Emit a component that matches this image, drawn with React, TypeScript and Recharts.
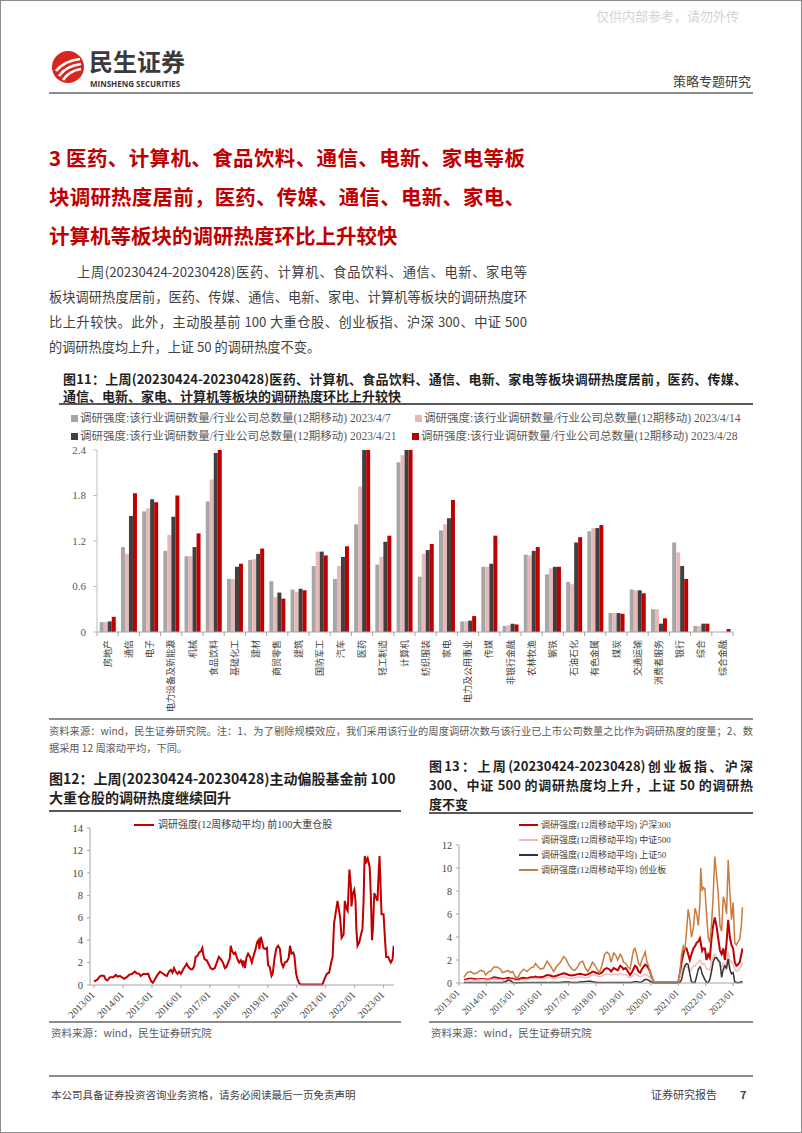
import React from 'react';
import { BarChart, Bar, XAxis, YAxis, LineChart, Line } from 'recharts';

const SERIF = "'Times New Roman', 'Liberation Serif', 'Noto Sans CJK SC', serif";
const SANS = "'Noto Sans CJK SC', 'Microsoft YaHei', sans-serif";

// ---------- Figure 11 data ----------
const industries = ['房地产', '通信', '电子', '电力设备及新能源', '机械', '食品饮料', '基础化工', '建材', '商贸零售', '建筑',
  '国防军工', '汽车', '医药', '轻工制造', '计算机', '纺织服装', '家电', '电力及公用事业', '传媒', '非银行金融',
  '农林牧渔', '钢铁', '石油石化', '有色金属', '煤炭', '交通运输', '消费者服务', '银行', '综合', '综合金融'];
const week0407 = [0.13, 1.12, 1.59, 1.07, 1.00, 1.72, 0.70, 0.95, 0.67, 0.56, 0.87, 0.70, 1.42, 0.89, 2.24, 0.73, 1.34, 0.14, 0.86, 0.08, 1.02, 0.76, 0.66, 1.33, 0.25, 0.56, 0.30, 1.18, 0.08, 0];
const week0414 = [0.13, 1.03, 1.63, 1.28, 1.00, 2.01, 0.70, 0.96, 0.46, 0.53, 1.06, 0.87, 1.92, 0.99, 2.33, 1.03, 1.42, 0.14, 0.86, 0.09, 1.01, 0.84, 0.63, 1.37, 0.25, 0.55, 0.30, 1.05, 0.08, 0];
const week0421 = [0.14, 1.53, 1.75, 1.52, 1.12, 2.36, 0.86, 1.03, 0.52, 0.57, 1.06, 0.99, 2.40, 1.19, 2.40, 1.08, 1.50, 0.15, 0.90, 0.11, 1.07, 0.86, 1.18, 1.37, 0.25, 0.55, 0.11, 0.87, 0.11, 0];
const week0428 = [0.20, 1.83, 1.71, 1.80, 1.30, 2.40, 0.90, 1.10, 0.44, 0.55, 1.01, 1.13, 2.40, 1.27, 2.40, 1.16, 1.74, 0.21, 1.27, 0.10, 1.12, 0.86, 1.25, 1.41, 0.24, 0.51, 0.18, 0.70, 0.11, 0.04];
const barTicks = [0, 0.6, 1.2, 1.8, 2.4];
const weekLabels = ['2023/4/7', '2023/4/14', '2023/4/21', '2023/4/28'];
const barColors = ['#a6a6a6', '#e6b9b8', '#404040', '#c00000'];
const barLegendPrefix = '调研强度:该行业调研数量/行业公司总数量(12期移动) ';

// ---------- Figure 12 data ----------
const fig12Time = [
  2013.00, 2013.12, 2013.21, 2013.29, 2013.35, 2013.40, 2013.46, 2013.55, 2013.67, 2013.75,
  2013.81, 2013.90, 2013.98, 2014.04, 2014.13, 2014.21, 2014.32, 2014.41, 2014.47, 2014.56,
  2014.61, 2014.71, 2014.79, 2014.87, 2014.91, 2014.98, 2015.03, 2015.10, 2015.19, 2015.28,
  2015.36, 2015.44, 2015.51, 2015.59, 2015.65, 2015.71, 2015.76, 2015.82, 2015.88, 2015.94,
  2016.00, 2016.08, 2016.13, 2016.20, 2016.26, 2016.34, 2016.40, 2016.46, 2016.51, 2016.57,
  2016.63, 2016.69, 2016.74, 2016.78, 2016.82, 2016.89, 2016.97, 2017.03, 2017.10, 2017.17,
  2017.24, 2017.31, 2017.38, 2017.45, 2017.52, 2017.57, 2017.63, 2017.69, 2017.72, 2017.77,
  2017.82, 2017.88, 2017.95, 2018.01, 2018.07, 2018.13, 2018.16, 2018.21, 2018.27, 2018.32,
  2018.39, 2018.45, 2018.51, 2018.58, 2018.63, 2018.68, 2018.71, 2018.76, 2018.81, 2018.85,
  2018.92, 2018.97, 2019.01, 2019.07, 2019.13, 2019.17, 2019.24, 2019.30, 2019.36, 2019.42,
  2019.47, 2019.53, 2019.59, 2019.66, 2019.72, 2019.77, 2019.82, 2019.88, 2019.92, 2019.98,
  2020.03, 2020.10, 2020.17, 2020.60, 2020.89, 2020.97, 2021.04, 2021.12, 2021.19, 2021.24,
  2021.29, 2021.35, 2021.41, 2021.47, 2021.50, 2021.55, 2021.62, 2021.66, 2021.72, 2021.76,
  2021.82, 2021.87, 2021.89, 2021.94, 2021.99, 2022.03, 2022.06, 2022.10, 2022.16, 2022.22,
  2022.27, 2022.31, 2022.33, 2022.35, 2022.40, 2022.45, 2022.52, 2022.56, 2022.60, 2022.63,
  2022.68, 2022.74, 2022.79, 2022.83, 2022.86, 2022.88, 2022.93, 2023.00, 2023.05, 2023.09,
  2023.16, 2023.21, 2023.25, 2023.31, 2023.35];
const fig12Top100 = [
  0.3, 0.5, 0.8, 0.85, 0.8, 0.5, 0.4, 0.7, 0.7, 0.9,
  0.75, 0.8, 0.65, 0.55, 0.7, 0.9, 1.0, 1.2, 1.05, 1.0,
  0.8, 1.0, 0.95, 1.0, 0.7, 0.3, 0.2, 0.5, 0.9, 1.2,
  1.05, 0.9, 0.8, 1.2, 1.35, 1.1, 1.5, 1.2, 1.0, 1.2,
  1.0, 1.4, 1.6, 1.9, 1.6, 1.4, 1.4, 1.7, 2.5, 2.6,
  2.9, 3.0, 3.3, 2.6, 2.3, 2.2, 1.8, 1.5, 1.4, 1.5,
  2.0, 2.5, 2.3, 2.0, 1.5, 1.6, 2.0, 2.4, 3.5, 3.0,
  2.8, 2.9, 2.3, 2.0, 2.2, 1.8, 2.2, 1.5, 2.5, 2.8,
  2.5, 2.0, 2.6, 3.2, 3.8, 4.0, 3.2, 4.3, 3.8, 3.3,
  3.2, 3.3, 1.8, 1.6, 0.8, 1.0, 2.5, 3.3, 3.5, 3.2,
  2.0, 1.6, 2.0, 2.1, 2.4, 3.5, 2.8, 2.9, 2.6, 1.0,
  0.5, 0.1, 0.05, 0.05, 0.05, 0.6, 1.0, 1.1, 2.0, 2.5,
  5.5, 6.5, 7.5, 6.5, 6.0, 4.2, 4.5, 7.5, 6.8, 6.6,
  10.3, 8.8, 7.0, 8.2, 8.5, 7.5, 5.0, 3.5, 3.8, 4.5,
  5.0, 7.5, 10.0, 11.5, 11.0, 11.3, 10.5, 8.0, 4.0, 5.0,
  8.2, 7.8, 7.5, 10.0, 11.5, 10.0, 6.3, 6.3, 4.0, 2.5,
  2.5, 2.2, 2.0, 2.3, 3.5];

// ---------- Figure 13 data ----------
const fig13Time = [
  2013.18, 2013.30, 2013.42, 2013.55, 2013.67, 2013.79, 2013.91, 2013.97, 2014.09, 2014.15,
  2014.27, 2014.39, 2014.52, 2014.58, 2014.70, 2014.79, 2014.88, 2014.96, 2015.06, 2015.16,
  2015.24, 2015.36, 2015.48, 2015.61, 2015.73, 2015.79, 2015.85, 2015.97, 2016.09, 2016.21,
  2016.33, 2016.45, 2016.58, 2016.70, 2016.82, 2016.90, 2017.00, 2017.12, 2017.22, 2017.30,
  2017.42, 2017.51, 2017.61, 2017.70, 2017.79, 2017.87, 2017.95, 2018.03, 2018.12, 2018.21,
  2018.31, 2018.39, 2018.48, 2018.55, 2018.64, 2018.72, 2018.79, 2018.88, 2018.94, 2019.00,
  2019.08, 2019.16, 2019.24, 2019.30, 2019.36, 2019.42, 2019.48, 2019.55, 2019.61, 2019.67,
  2019.73, 2019.79, 2019.85, 2019.91, 2019.97, 2020.03, 2020.09, 2020.15, 2020.60, 2021.00,
  2021.06, 2021.12, 2021.18, 2021.24, 2021.30, 2021.36, 2021.42, 2021.48, 2021.55, 2021.61,
  2021.67, 2021.73, 2021.79, 2021.82, 2021.87, 2021.91, 2021.97, 2022.03, 2022.09, 2022.15,
  2022.21, 2022.27, 2022.33, 2022.39, 2022.45, 2022.52, 2022.58, 2022.64, 2022.70, 2022.76,
  2022.82, 2022.88, 2022.94, 2023.00, 2023.06, 2023.12, 2023.18, 2023.24, 2023.30, 2023.34];
const hs300 = [
  0.25, 0.35, 0.4, 0.35, 0.3, 0.35, 0.35, 0.3, 0.3, 0.35,
  0.5, 0.45, 0.4, 0.35, 0.4, 0.45, 0.4, 0.4, 0.3, 0.3,
  0.4, 0.45, 0.4, 0.5, 0.5, 0.55, 0.5, 0.5, 0.55, 0.7,
  0.65, 0.55, 0.65, 0.75, 0.85, 0.8, 0.7, 0.65, 0.7, 0.75,
  0.8, 0.75, 0.7, 0.75, 0.85, 1.0, 0.95, 0.85, 0.8, 0.9,
  1.2, 1.3, 1.2, 1.0, 1.3, 1.2, 1.1, 1.5, 1.4, 1.2,
  1.3, 1.0, 0.7, 0.9, 1.2, 1.5, 1.4, 1.0, 0.9, 1.2,
  1.4, 1.6, 1.5, 1.3, 1.0, 0.5, 0.15, 0.05, 0.05, 0.05,
  0.8, 1.8, 2.5, 3.0, 3.0, 2.5, 2.0, 2.5, 3.0, 3.2,
  3.5, 3.6, 3.9, 3.5, 2.8, 3.0, 3.0, 2.0, 2.5, 2.2,
  3.8, 5.0, 5.7, 5.0, 4.0, 2.8, 2.5, 3.0, 2.0, 3.5,
  5.5, 4.0, 3.3, 3.0, 1.8, 1.5, 1.6, 1.8, 2.5, 3.0];
const zz500 = [
  0.2, 0.25, 0.3, 0.25, 0.25, 0.3, 0.3, 0.25, 0.25, 0.3,
  0.35, 0.3, 0.3, 0.25, 0.3, 0.3, 0.3, 0.3, 0.2, 0.2,
  0.25, 0.3, 0.3, 0.35, 0.4, 0.4, 0.4, 0.35, 0.4, 0.45,
  0.45, 0.4, 0.45, 0.5, 0.55, 0.5, 0.45, 0.4, 0.45, 0.5,
  0.55, 0.5, 0.45, 0.5, 0.6, 0.7, 0.7, 0.6, 0.55, 0.6,
  0.75, 0.8, 0.75, 0.7, 0.8, 0.75, 0.7, 0.85, 0.8, 0.7,
  0.75, 0.6, 0.45, 0.55, 0.7, 0.8, 0.75, 0.6, 0.55, 0.6,
  0.7, 0.75, 0.7, 0.6, 0.45, 0.25, 0.1, 0.05, 0.05, 0.05,
  0.5, 1.0, 1.3, 1.5, 1.4, 1.3, 1.0, 1.2, 1.5, 1.5,
  1.7, 1.8, 2.0, 1.9, 1.6, 1.7, 1.6, 1.2, 1.2, 1.1,
  1.8, 2.3, 2.5, 2.3, 2.0, 1.5, 1.4, 1.7, 1.2, 1.8,
  2.7, 2.0, 1.8, 1.6, 1.2, 1.0, 1.1, 1.2, 1.5, 1.8];
const sz50 = [
  0.05, 0.05, 0.05, 0.05, 0.05, 0.05, 0.05, 0.05, 0.05, 0.05,
  0.05, 0.05, 0.05, 0.05, 0.1, 0.25, 0.2, 0.05, 0.03, 0.03,
  0.03, 0.05, 0.05, 0.05, 0.05, 0.05, 0.05, 0.05, 0.05, 0.05,
  0.05, 0.05, 0.05, 0.05, 0.08, 0.08, 0.08, 0.05, 0.05, 0.05,
  0.08, 0.1, 0.12, 0.15, 0.15, 0.1, 0.08, 0.05, 0.05, 0.05,
  0.05, 0.05, 0.05, 0.05, 0.05, 0.05, 0.05, 0.05, 0.05, 0.05,
  0.05, 0.05, 0.05, 0.05, 0.08, 0.1, 0.1, 0.08, 0.05, 0.1,
  0.2, 0.3, 0.3, 0.25, 0.15, 0.08, 0.03, 0.02, 0.02, 0.02,
  0.05, 0.3, 1.0, 1.5, 1.7, 1.6, 0.8, 0.1, 0.05, 0.05,
  0.6, 1.2, 1.4, 1.3, 0.8, 0.6, 0.3, 0.05, 0.05, 0.3,
  1.0, 1.8, 2.2, 2.2, 2.0, 1.8, 0.5, 1.2, 1.5, 1.3,
  2.1, 1.2, 0.8, 0.9, 0.1, 0.05, 0.05, 0.05, 0.1, 0.1];
const cyb = [
  0.5, 0.9, 1.0, 0.8, 0.9, 1.1, 1.0, 0.7, 1.0, 1.0,
  1.4, 1.4, 1.2, 0.9, 1.0, 1.1, 0.9, 1.0, 0.5, 0.5,
  0.9, 1.2, 1.0, 1.3, 1.4, 1.7, 1.5, 1.2, 1.3, 1.9,
  1.5, 1.0, 1.5, 1.8, 2.3, 2.1, 1.6, 1.2, 1.1, 1.3,
  1.8, 1.9, 1.3, 1.0, 1.4, 1.8, 1.6, 1.2, 0.9, 1.5,
  2.5, 2.7, 2.5, 1.8, 2.6, 2.4, 2.0, 2.5, 2.3, 1.8,
  1.7, 1.4, 1.2, 2.0, 2.8, 3.0, 2.5, 1.7, 1.5, 2.0,
  2.3, 2.7, 1.9, 1.5, 1.0, 0.5, 0.2, 0.1, 0.1, 0.1,
  1.0, 2.5, 3.2, 2.8, 4.5, 6.4, 5.5, 4.0, 4.8, 6.5,
  6.0, 5.0, 7.0, 10.0, 8.0, 8.3, 8.2, 6.0, 4.0, 3.5,
  5.0, 7.5, 11.0, 9.5, 8.0, 5.0, 4.5, 7.5, 7.0, 6.0,
  10.7, 8.0, 5.5, 7.0, 3.5, 3.3, 3.6, 3.8, 5.0, 6.6];
const yearTicks = [2013, 2014, 2015, 2016, 2017, 2018, 2019, 2020, 2021, 2022, 2023];
const fig12YTicks = [0, 2, 4, 6, 8, 10, 12, 14];
const fig13YTicks = [0, 2, 4, 6, 8, 10, 12];
const fig13Series = [
  { key: 'hs300', name: '调研强度(12周移动平均) 沪深300', color: '#c00000', width: 2 },
  { key: 'zz500', name: '调研强度(12周移动平均) 中证500', color: '#f2bcbc', width: 1.5 },
  { key: 'sz50', name: '调研强度(12周移动平均) 上证50', color: '#333333', width: 1.5 },
  { key: 'cyb', name: '调研强度(12周移动平均) 创业板', color: '#c77c3e', width: 1.5 },
];

const barData = industries.map((name, i) => ({ name, a: week0407[i], b: week0414[i], c: week0421[i], d: week0428[i] }));
const fig12Data = fig12Time.map((t, i) => ({ t, v: fig12Top100[i] }));
const fig13Data = fig13Time.map((t, i) => ({ t, hs300: hs300[i], zz500: zz500[i], sz50: sz50[i], cyb: cyb[i] }));

// ---------- layout helpers ----------
type TProps = {
  x: number; cy: number; size: number; color?: string; bold?: boolean; width?: number; lh?: number;
  justify?: boolean; right?: boolean; family?: string; children: React.ReactNode;
};
function T({ x, cy, size, color = '#404040', bold, width, lh, justify, right, family = SANS, children }: TProps) {
  const h = lh ?? Math.round(size * 1.4);
  const style: React.CSSProperties = {
    position: 'absolute', top: cy - h / 2, height: h, lineHeight: `${h}px`, fontSize: size, color,
    fontWeight: bold ? 700 : 400, fontFamily: family, whiteSpace: justify ? 'normal' : 'nowrap',
  };
  if (right) style.right = 802 - x; else style.left = x;
  if (width) style.width = width;
  if (justify) { style.textAlign = 'justify'; style.textAlignLast = 'justify'; }
  return <div style={style}>{children}</div>;
}
function Rule({ x1, x2, y, color = '#7f7f7f', w = 2 }: { x1: number; x2: number; y: number; color?: string; w?: number }) {
  return <div style={{ position: 'absolute', left: x1, top: y - w / 2, width: x2 - x1, height: w, background: color }} />;
}

const BAR_PLOT_W = 636;
const BAND = BAR_PLOT_W / industries.length;

const BandTick = (props: any) => {
  const { x, y, payload, index } = props;
  return (
    <g>
      <line x1={x - BAND / 2} x2={x - BAND / 2} y1={y} y2={y + 4} stroke="#a6a6a6" />
      {index === industries.length - 1 && <line x1={x + BAND / 2} x2={x + BAND / 2} y1={y} y2={y + 4} stroke="#a6a6a6" />}
      <text transform={`translate(${x},${y + 8}) rotate(-90)`} textAnchor="end" dy="0.36em" fontSize={9} fill="#404040" fontFamily={SERIF}>
        {payload.value}
      </text>
    </g>
  );
};

const makeYearTick = (size: number) => (props: any) => {
  const { x, y, payload } = props;
  return (
    <text transform={`translate(${x - 1},${y + 3}) rotate(-45)`} textAnchor="end" dy="0.35em" fontSize={size} fill="#404040" fontFamily={SERIF}>
      {`${payload.value}/01`}
    </text>
  );
};

export default function App() {
  return (
    <div style={{ position: 'absolute', left: 0, top: 0, width: 802, height: 1133, background: '#fff', overflow: 'hidden', boxSizing: 'border-box', border: '1px solid #8c8c8c' }}>
      {/* watermark */}
      <T x={595} cy={16} size={13} color="#d4d4d4" family={SERIF}>仅供内部参考，请勿外传</T>

      {/* header */}
      <svg style={{ position: 'absolute', left: 50, top: 49 }} width={34} height={34} viewBox="0 0 34 34">
        <circle cx={17} cy={17} r={16} fill="#d7261e" />
        <path d="M5 21 Q13 11 29 9" stroke="#fff" strokeWidth={2.6} fill="none" />
        <path d="M8 26 Q15 16 30 14" stroke="#fff" strokeWidth={2.6} fill="none" />
        <path d="M12 30 Q18 21 30 19" stroke="#fff" strokeWidth={2.6} fill="none" />
      </svg>
      <T x={88} cy={60} size={24} lh={22} bold color="#3a3a3a">民生证券</T>
      <div style={{ position: 'absolute', left: 89, top: 78, height: 9, fontSize: 8, fontWeight: 700, color: '#3a3a3a', fontFamily: "'Open Sans', 'Liberation Sans', sans-serif", whiteSpace: 'nowrap', lineHeight: '9px' }}>MINSHENG SECURITIES</div>
      <T x={752} cy={80} size={13} right color="#404040">策略专题研究</T>
      <Rule x1={48} x2={752} y={92} color="#8c8c8c" w={2} />

      {/* heading */}
      <T x={48} cy={156} size={20.5} bold color="#c00000" width={476} justify>3 医药、计算机、食品饮料、通信、电新、家电等板</T>
      <T x={48} cy={195} size={20.5} bold color="#c00000" width={476} justify>块调研热度居前，医药、传媒、通信、电新、家电、</T>
      <T x={48} cy={234} size={20.5} bold color="#c00000">计算机等板块的调研热度环比上升较快</T>

      {/* body */}
      <T x={76} cy={271} size={13.2} width={450} justify>上周(20230424-20230428)医药、计算机、食品饮料、通信、电新、家电等</T>
      <T x={48} cy={296} size={13.2} width={478} justify>板块调研热度居前，医药、传媒、通信、电新、家电、计算机等板块的调研热度环</T>
      <T x={48} cy={321} size={13.2} width={478} justify>比上升较快。此外，主动股基前 100 大重仓股、创业板指、沪深 300、中证 500</T>
      <T x={48} cy={346} size={13.2}>的调研热度均上升，上证 50 的调研热度不变。</T>

      {/* figure 11 title */}
      <T x={62} cy={377} size={13} lh={17} bold color="#1f1f1f" width={684} justify>图11：上周(20230424-20230428)医药、计算机、食品饮料、通信、电新、家电等板块调研热度居前，医药、传媒、</T>
      <T x={62} cy={394} size={13} lh={17} bold color="#1f1f1f">通信、电新、家电、计算机等板块的调研热度环比上升较快</T>
      <Rule x1={58} x2={752} y={403} color="#595959" w={2} />

      {/* figure 11 legend */}
      {weekLabels.map((w, i) => {
        const lx = i % 2 === 0 ? 70 : (i === 1 ? 414 : 411);
        const cy = i < 2 ? 417 : 435;
        return (
          <div key={w} style={{ position: 'absolute', left: lx, top: cy - 8, height: 16, display: 'flex', alignItems: 'center', whiteSpace: 'nowrap' }}>
            <div style={{ width: 7, height: 7, background: barColors[i], marginRight: 2 }} />
            <span style={{ fontSize: 11.5, lineHeight: '16px', color: '#595959', fontFamily: SERIF }}>{barLegendPrefix + w}</span>
          </div>
        );
      })}

      {/* figure 11 chart */}
      <div style={{ position: 'absolute', left: 0, top: 440 }}>
        <BarChart width={760} height={284} data={barData} margin={{ top: 9, right: 28, bottom: 0, left: 0 }} barCategoryGap="13%" barGap={0}>
          <XAxis dataKey="name" interval={0} tickLine={false} tickSize={0} tickMargin={0} axisLine={{ stroke: '#a6a6a6' }} height={93} tick={(p: any) => <BandTick {...p} />} />
          <YAxis width={96} domain={[0, 2.4]} ticks={barTicks} allowDataOverflow tickSize={4} tickMargin={7}
            axisLine={{ stroke: '#bfbfbf' }} tickLine={{ stroke: '#bfbfbf' }} tick={{ fontSize: 11, fill: '#595959', fontFamily: SERIF }} />
          <Bar dataKey="a" fill={barColors[0]} isAnimationActive={false} />
          <Bar dataKey="b" fill={barColors[1]} isAnimationActive={false} />
          <Bar dataKey="c" fill={barColors[2]} isAnimationActive={false} />
          <Bar dataKey="d" fill={barColors[3]} isAnimationActive={false} />
        </BarChart>
      </div>
      <Rule x1={48} x2={752} y={718} color="#8c8c8c" w={2} />

      {/* source note */}
      <T x={48} cy={729} size={10.2} lh={15} color="#595959" width={704} justify>资料来源：wind，民生证券研究院。注：1、为了剔除规模效应，我们采用该行业的周度调研次数与该行业已上市公司数量之比作为调研热度的度量；2、数</T>
      <T x={48} cy={746} size={10.2} lh={15} color="#595959">据采用 12 周滚动平均，下同。</T>

      {/* figure 12 title */}
      <T x={48} cy={777} size={14} lh={17} bold color="#1f1f1f">图12：上周(20230424-20230428)主动偏股基金前 100</T>
      <T x={48} cy={796} size={14} lh={17} bold color="#1f1f1f">大重仓股的调研热度继续回升</T>
      <Rule x1={48} x2={400} y={810} color="#595959" w={2} />

      {/* figure 13 title */}
      <T x={428} cy={765} size={13} lh={16} bold color="#1f1f1f" width={324} justify>图13：上周(20230424-20230428)创业板指、沪深</T>
      <T x={428} cy={784} size={13} lh={16} bold color="#1f1f1f" width={324} justify>300、中证 500 的调研热度均上升，上证 50 的调研热</T>
      <T x={428} cy={803} size={13} lh={14} bold color="#1f1f1f">度不变</T>
      <Rule x1={428} x2={752} y={812} color="#595959" w={2} />

      {/* figure 12 chart */}
      <div style={{ position: 'absolute', left: 40, top: 812 }}>
        <LineChart width={360} height={212} data={fig12Data} margin={{ top: 15, right: 7, bottom: 0, left: 0 }}>
          <XAxis type="number" dataKey="t" domain={[2012.86, 2023.36]} ticks={yearTicks} allowDataOverflow interval={0}
            tickSize={3} tickMargin={2} height={40} axisLine={{ stroke: '#a6a6a6' }} tickLine={{ stroke: '#a6a6a6' }} tick={makeYearTick(10)} />
          <YAxis width={49} domain={[0, 14]} ticks={fig12YTicks} tickSize={3} tickMargin={4}
            axisLine={{ stroke: '#a6a6a6' }} tickLine={{ stroke: '#a6a6a6' }} tick={{ fontSize: 10.5, fill: '#404040', fontFamily: SERIF }} />
          <Line type="linear" dataKey="v" stroke="#c00000" strokeWidth={2} dot={false} isAnimationActive={false} />
        </LineChart>
      </div>
      <div style={{ position: 'absolute', left: 133, top: 816, height: 16, display: 'flex', alignItems: 'center', whiteSpace: 'nowrap' }}>
        <div style={{ width: 20, height: 2, background: '#c00000', marginRight: 4 }} />
        <span style={{ fontSize: 10, lineHeight: '16px', color: '#404040', fontFamily: SERIF }}>调研强度(12周移动平均) 前100大重仓股</span>
      </div>

      {/* figure 13 chart */}
      <div style={{ position: 'absolute', left: 420, top: 830 }}>
        <LineChart width={340} height={192} data={fig13Data} margin={{ top: 14, right: 18, bottom: 0, left: 0 }}>
          <XAxis type="number" dataKey="t" domain={[2013.0, 2023.36]} ticks={yearTicks} allowDataOverflow interval={0}
            tickSize={3} tickMargin={2} height={40} axisLine={{ stroke: '#a6a6a6' }} tickLine={{ stroke: '#a6a6a6' }} tick={makeYearTick(9.5)} />
          <YAxis width={38} domain={[0, 12]} ticks={fig13YTicks} tickSize={3} tickMargin={4}
            axisLine={{ stroke: '#a6a6a6' }} tickLine={{ stroke: '#a6a6a6' }} tick={{ fontSize: 10, fill: '#404040', fontFamily: SERIF }} />
          {fig13Series.map((s) => (
            <Line key={s.key} type="linear" dataKey={s.key} name={s.name} stroke={s.color} strokeWidth={s.width} dot={false} isAnimationActive={false} />
          ))}
        </LineChart>
      </div>
      {fig13Series.map((s, i) => (
        <div key={s.key} style={{ position: 'absolute', left: 518, top: 817 + i * 15, height: 14, display: 'flex', alignItems: 'center', whiteSpace: 'nowrap' }}>
          <div style={{ width: 19, height: 2, background: s.color, marginRight: 3 }} />
          <span style={{ fontSize: 9, lineHeight: '14px', color: '#404040', fontFamily: SERIF }}>{s.name}</span>
        </div>
      ))}

      {/* bottom rules & sources */}
      <Rule x1={48} x2={400} y={1021} color="#8c8c8c" w={2} />
      <Rule x1={428} x2={752} y={1021} color="#8c8c8c" w={2} />
      <T x={50} cy={1031} size={10.5} color="#595959">资料来源：wind，民生证券研究院</T>
      <T x={430} cy={1031} size={10.5} color="#595959">资料来源：wind，民生证券研究院</T>

      {/* footer */}
      <Rule x1={48} x2={752} y={1075} color="#8c8c8c" w={2} />
      <T x={50} cy={1093} size={10.5} color="#404040">本公司具备证券投资咨询业务资格，请务必阅读最后一页免责声明</T>
      <T x={650} cy={1093} size={11} color="#404040">证券研究报告</T>
      <T x={739} cy={1093} size={11} bold color="#404040">7</T>
    </div>
  );
}
